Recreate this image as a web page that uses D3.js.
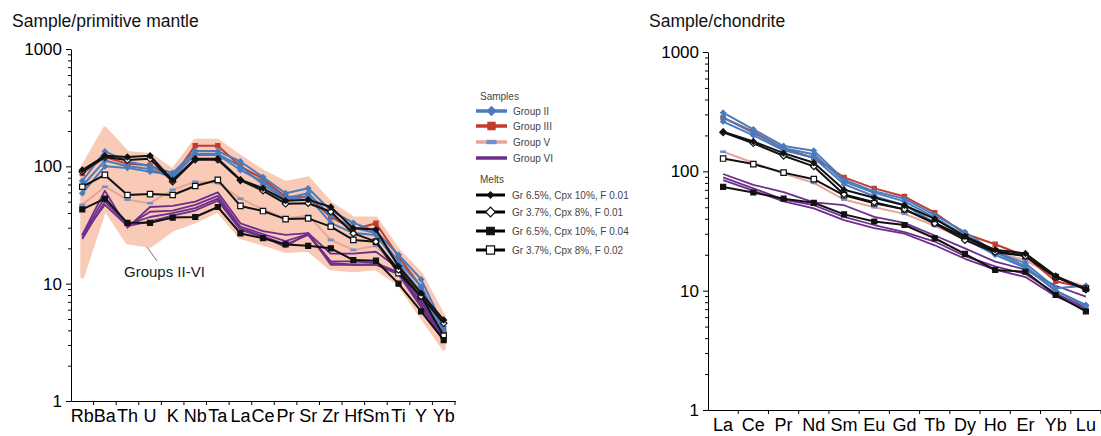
<!DOCTYPE html>
<html>
<head>
<meta charset="utf-8">
<script src="https://cdn.jsdelivr.net/npm/d3@7"></script>
<style>
  body { margin: 0; background: #ffffff; }
  svg { font-family: "Liberation Sans", Arial, sans-serif; }
  .tit { font-size: 17.5px; fill: #111; }
  .leg { font-size: 10px; fill: #444; }
</style>
</head>
<body>
<main></main>
<script>
//the elements on each axis
const pmElements = ["Rb","Ba","Th","U","K","Nb","Ta","La","Ce","Pr","Sr","Zr","Hf","Sm","Ti","Y","Yb"];
const reeElements = ["La","Ce","Pr","Nd","Sm","Eu","Gd","Tb","Dy","Ho","Er","Yb","Lu"];
const yTicks = [1, 10, 100, 1000];

//primitive mantle normalised
const pmEnvUpper = [97, 210, 130, 125, 92, 165, 165, 120, 90, 72, 79, 48, 36, 36, 19, 12, 5.2];
const pmEnvLower = [11.5, 44, 22.5, 21, 29, 34, 42, 25, 22, 19, 19.5, 13.5, 13, 13.5, 10, 5.3, 2.8];

const pmGroupII = [
  [75, 134, 110, 100, 88, 135, 135, 110, 81, 59, 65, 42, 33, 28, 17.6, 10.9, 4.3],
  [59, 100, 97, 90, 85, 125, 125, 93, 74, 53.5, 59, 38, 30, 27, 15.5, 9.5, 3.9],
  [68, 112, 100, 95, 80, 128, 128, 100, 70, 52, 55, 33, 27, 26, 14.5, 8.5, 3.6]
];
const pmGroupIII = [
  [87, 120, 105, 102, 80, 150, 150, 100, 78, 55, 55, 37, 29, 32.7, 17, 9.4, 4]
];
const pmGroupV = [
  [47, 67, 52, 48.5, 63, 74, 72, 53, 43, 36, 38, 23.6, 19.4, 21, 13, 7, 3.8]
];
const pmGroupVI = [
  [26, 62, 30, 45, 46, 50, 60, 32.7, 28, 26, 27, 18, 18, 18.7, 13.5, 7.2, 3.6],
  [25, 55, 31, 41, 42, 47, 56, 30.6, 26.5, 23, 26.5, 15.5, 15.5, 15, 12.5, 6.8, 3.5],
  [24, 50, 32, 37, 40, 44, 53, 29.5, 25.5, 21.5, 26, 15, 14.5, 14.5, 12.5, 6.5, 3.4],
  [26, 47, 31, 34, 38, 42, 51, 28.7, 25, 20.6, 27, 14.5, 14.5, 14.5, 12, 6.3, 3.3]
];
const pmMelt1 = [93, 123, 120, 123, 76, 116, 116, 77, 65, 51, 52, 45, 29.7, 29, 14, 8.3, 4.9];
const pmMelt2 = [90, 120, 113, 116, 74, 114, 114, 76, 62, 48, 48.5, 41, 26.8, 22.8, 13.1, 7.8, 4.6];
const pmMelt3 = [43, 53, 33, 33, 36.6, 37, 45, 26.8, 24.4, 21.6, 21, 20, 15.9, 15.7, 10, 5.8, 3.3];
const pmMelt4 = [67, 84.5, 57, 58, 57, 68, 76.6, 46, 41.6, 35.5, 36, 30.6, 23.6, 22.8, 12.3, 7.8, 3.6];

//chondrite normalised
const reeGroupII = [
  [310, 225, 163, 149, 85, 68, 59, 43, 31, 21, 17, 10.5, 11],
  [282, 210, 156, 139, 82, 66, 56, 41, 29, 21, 16, 10, 7.6],
  [261, 200, 150, 130, 78, 62, 52, 37, 27, 20, 15.5, 10, 7.4]
];
const reeGroupIII = [
  [282, 215, 155, 130, 89, 72, 61.5, 45, 30, 24.5, 19.5, 12, 10.5]
];
const reeGroupV = [
  [146, 118, 96, 80, 58, 50, 44, 35, 27, 21, 18, 13, 10.8]
];
const reeGroupVI = [
  [95, 77, 67, 55, 52, 41.6, 37, 29, 22.6, 17.5, 15, 11, 8.9],
  [89, 72, 58, 52, 41.6, 35.5, 31, 25.8, 19.5, 16, 13.8, 9.5, 7.2],
  [84.5, 69, 56, 49, 39, 33.5, 30, 24, 18.5, 15, 13, 9, 7]
];
const reeMelt1 = [215, 178, 142, 118, 70, 60, 52, 40, 28.5, 22, 20.5, 13.3, 10.3];
const reeMelt2 = [212, 172, 135, 110, 64, 55, 48, 36.5, 26.5, 21, 19.5, 13, 10.2];
const reeMelt3 = [74, 66.5, 59, 54.5, 43.6, 38, 35.5, 27.5, 20.3, 14.9, 14.4, 9.2, 6.7];
const reeMelt4 = [128, 115, 97.5, 86, 63, 54, 48, 37, 28, 21.5, 19.5, 13, 10.4];

const sampleNames = ["Group II", "Group III", "Group V", "Group VI"];
const meltNames = ["Gr 6.5%, Cpx 10%, F 0.01", "Gr 3.7%, Cpx 8%, F 0.01", "Gr 6.5%, Cpx 10%, F 0.04", "Gr 3.7%, Cpx 8%, F 0.02"];

//colours and marker styles (side = marker side in px)
const blue = "#4b7bbd", red = "#c23b2c", pink = "#e6a49b", purple = "#6e2f8c", envFill = "#f9cab5";

const styles = {
  II:  {stroke: blue, width: 2, marker: "diamond", side: 3.6, fill: blue, mstroke: blue},
  III: {stroke: red, width: 2, marker: "square", side: 4.2, fill: red, mstroke: red},
  V:   {stroke: pink, width: 2, marker: "dash", fill: "#6f92cc"},
  VI:  {stroke: purple, width: 1.8, marker: null},
  m1:  {stroke: "#111", width: 2, marker: "diamond", side: 4, fill: "#111", mstroke: "#111"},
  m2:  {stroke: "#111", width: 2, marker: "diamond", side: 4.6, fill: "#fff", mstroke: "#111"},
  m3:  {stroke: "#111", width: 2, marker: "square", side: 5, fill: "#111", mstroke: "#111"},
  m4:  {stroke: "#111", width: 2, marker: "square", side: 5.4, fill: "#fff", mstroke: "#111"}
};

const svg = d3.select("main").append("svg")
              .attr("width", 1101)
              .attr("height", 436);

const drawMarker = (g, st, x, y, scale) => {
  if (!st.marker) return;
  if (st.marker == "dash") {
    g.append("rect")
      .attr("x", x - 3 * scale).attr("y", y - 1.3 * scale)
      .attr("width", 6 * scale).attr("height", 2.6 * scale)
      .attr("fill", st.fill);
    return;
  }
  const s = st.side * scale;
  g.append("path")
    .attr("d", d3.symbol().type(d3.symbolSquare).size(s * s)())
    .attr("transform", "translate(" + x + "," + y + ")" + (st.marker == "diamond" ? " rotate(45)" : ""))
    .attr("fill", st.fill)
    .attr("stroke", st.mstroke)
    .attr("stroke-width", 1.2);
};

const drawPanel = (opts) => {
  const x = d3.scaleBand().domain(opts.elements).range(opts.xRange).paddingInner(0).paddingOuter(0);
  const y = d3.scaleLog().domain([1, 1000]).range(opts.yRange);
  const cx = (d) => x(d) + x.bandwidth() / 2;
  const g = svg.append("g");

  //envelope
  if (opts.envelope) {
    const pts = opts.elements.map((d, i) => [cx(d), y(opts.envelope[0][i])])
      .concat(opts.elements.map((d, i) => [cx(d), y(opts.envelope[1][i])]).reverse());
    g.append("path")
      .attr("d", "M" + pts.join("L") + "Z")
      .attr("fill", envFill)
      .attr("stroke", envFill)
      .attr("stroke-width", 4)
      .attr("stroke-linejoin", "round");
  }

  const line = d3.line().x((d, i) => cx(opts.elements[i])).y(d => y(d));

  opts.series.forEach(s => {
    const st = styles[s.style];
    g.append("path")
      .attr("d", line(s.values))
      .attr("fill", "none")
      .attr("stroke", st.stroke)
      .attr("stroke-width", st.width)
      .attr("stroke-linejoin", "round");
    s.values.forEach((v, i) => drawMarker(g, st, cx(opts.elements[i]), y(v), 1));
  });

  //y axis, majors and minors
  const minors = [];
  [1, 10, 100].forEach(b => { for (let k = 2; k < 10; k++) minors.push(b * k); });
  g.append("g")
    .attr("transform", "translate(" + opts.xRange[0] + ",0)")
    .call(d3.axisLeft(y).tickValues(minors).tickSize(3).tickFormat(""))
    .call(a => a.select(".domain").remove());
  g.append("g")
    .attr("transform", "translate(" + opts.xRange[0] + ",0)")
    .call(d3.axisLeft(y).tickValues(yTicks).tickSize(5).tickPadding(4).tickSizeOuter(0).tickFormat(d3.format("d")))
    .call(a => a.selectAll("text").attr("font-size", 17).attr("fill", "#000").attr("font-family", null));

  //x axis, ticks between the elements
  const xAxis = g.append("g")
    .attr("transform", "translate(0," + opts.yRange[0] + ")")
    .call(d3.axisBottom(x).tickSize(0).tickSizeOuter(0).tickPadding(opts.labelPad))
    .call(a => a.selectAll("text").attr("font-size", 18).attr("fill", "#000").attr("font-family", null));
  xAxis.selectAll(".boundary")
    .data(opts.elements.slice(1).concat(["end"]))
    .join("line")
    .attr("class", "boundary")
    .attr("x1", (d, i) => x(opts.elements[0]) + x.bandwidth() * (i + 1))
    .attr("x2", (d, i) => x(opts.elements[0]) + x.bandwidth() * (i + 1))
    .attr("y1", 0).attr("y2", 4)
    .attr("stroke", "#000");

  svg.append("text").attr("class", "tit")
    .attr("x", opts.titleX).attr("y", 27)
    .text(opts.title);

  return {x: x, y: y, cx: cx};
};

const groupSeries = (arr, style) => arr.map(v => ({values: v, style: style}));

const left = drawPanel({
  elements: pmElements, xRange: [71, 455], yRange: [401, 49], labelPad: 8,
  envelope: [pmEnvUpper, pmEnvLower],
  title: "Sample/primitive mantle", titleX: 12,
  series: groupSeries(pmGroupV, "V")
    .concat(groupSeries(pmGroupVI, "VI"))
    .concat(groupSeries(pmGroupIII, "III"))
    .concat(groupSeries(pmGroupII, "II"))
    .concat([{values: pmMelt4, style: "m4"}, {values: pmMelt3, style: "m3"},
             {values: pmMelt2, style: "m2"}, {values: pmMelt1, style: "m1"}])
});

const right = drawPanel({
  elements: reeElements, xRange: [708, 1101], yRange: [410, 52], labelPad: 8,
  envelope: null,
  title: "Sample/chondrite", titleX: 649,
  series: groupSeries(reeGroupV, "V")
    .concat(groupSeries(reeGroupVI, "VI"))
    .concat(groupSeries(reeGroupIII, "III"))
    .concat(groupSeries(reeGroupII, "II"))
    .concat([{values: reeMelt4, style: "m4"}, {values: reeMelt3, style: "m3"},
             {values: reeMelt2, style: "m2"}, {values: reeMelt1, style: "m1"}])
});

//label for the shaded field
svg.append("line")
  .attr("x1", 147).attr("y1", 247).attr("x2", 157).attr("y2", 261)
  .attr("stroke", "#555").attr("stroke-width", 0.8);
svg.append("text")
  .attr("x", 124).attr("y", 277)
  .attr("font-size", 15).attr("fill", "#222")
  .text("Groups II-VI");

//legend
const leg = svg.append("g");
leg.append("text").attr("class", "leg").attr("x", 480).attr("y", 99.5).text("Samples");
leg.append("text").attr("class", "leg").attr("x", 480).attr("y", 182.5).text("Melts");

const legStyles = ["II", "III", "V", "VI"];
const sampleY = [111, 126, 142, 158];
sampleNames.forEach((n, i) => {
  const st = styles[legStyles[i]];
  leg.append("line")
    .attr("x1", 476).attr("x2", 507).attr("y1", sampleY[i]).attr("y2", sampleY[i])
    .attr("stroke", st.stroke).attr("stroke-width", 3.5);
  drawMarker(leg, st, 491.5, sampleY[i], 1.7);
  leg.append("text").attr("class", "leg")
    .attr("x", 513).attr("y", sampleY[i] + 3.5).text(n);
});

const meltStyles = ["m1", "m2", "m3", "m4"];
const meltY = [195, 212, 231, 250];
meltNames.forEach((n, i) => {
  const st = styles[meltStyles[i]];
  leg.append("line")
    .attr("x1", 476).attr("x2", 505).attr("y1", meltY[i]).attr("y2", meltY[i])
    .attr("stroke", "#000").attr("stroke-width", 3);
  drawMarker(leg, st, 490.5, meltY[i], i == 0 ? 1.1 : 1.5);
  leg.append("text").attr("class", "leg")
    .attr("x", 512).attr("y", meltY[i] + 3.5).text(n);
});
</script>
</body>
</html>
